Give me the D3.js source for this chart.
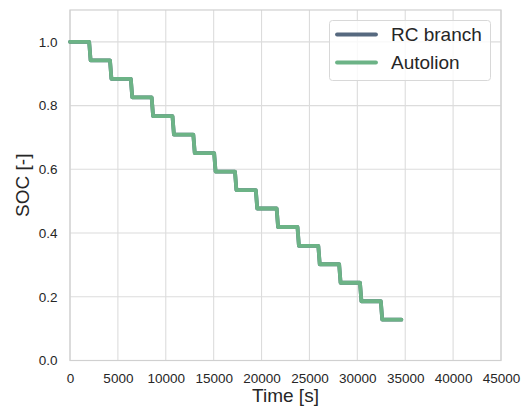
<!DOCTYPE html>
<html>
<head>
<meta charset="utf-8">
<script src="https://cdn.jsdelivr.net/npm/d3@7"></script>
<style>
  body { margin: 0; background: #fff; }
  text { font-family: "Liberation Sans", Arial, sans-serif; fill: #262626; }
</style>
</head>
<body>
<script>
var width = 527;
var height = 409;

// series names and values
var seriesNames = ["RC branch", "Autolion"];
var seriesColors = ["#56697f", "#6cb386"];

var timeValues = [0, 2000, 2150, 4175, 4325, 6350, 6500, 8525, 8675, 10700, 10850,
  12875, 13025, 15050, 15200, 17225, 17375, 19400, 19550, 21575, 21725,
  23750, 23900, 25925, 26075, 28100, 28250, 30275, 30425, 32450, 32600, 34600];
var rcSoc = [1.0, 1.0, 0.942, 0.942, 0.884, 0.884, 0.826, 0.826, 0.767, 0.767, 0.709,
  0.709, 0.651, 0.651, 0.593, 0.593, 0.535, 0.535, 0.477, 0.477, 0.419,
  0.419, 0.360, 0.360, 0.302, 0.302, 0.244, 0.244, 0.186, 0.186, 0.128, 0.128];
var autolionSoc = [1.0, 1.0, 0.942, 0.942, 0.884, 0.884, 0.826, 0.826, 0.767, 0.767, 0.709,
  0.709, 0.651, 0.651, 0.593, 0.593, 0.535, 0.535, 0.477, 0.477, 0.419,
  0.419, 0.360, 0.360, 0.302, 0.302, 0.244, 0.244, 0.186, 0.186, 0.128, 0.128];

var xTicks = [0, 5000, 10000, 15000, 20000, 25000, 30000, 35000, 40000, 45000];
var yTicks = [0.0, 0.2, 0.4, 0.6, 0.8, 1.0];

var plotLeft = 70, plotRight = 501, plotTop = 10, plotBottom = 360.5;

var x = d3.scaleLinear().domain([0, 45000]).range([plotLeft, plotRight]);
var y = d3.scaleLinear().domain([0, 1.1]).range([plotBottom, plotTop]);

var svg = d3.select("body").append("svg")
    .attr("width", width)
    .attr("height", height);

// grid
svg.append("g")
    .selectAll("line")
    .data(xTicks)
  .enter().append("line")
    .attr("x1", function(d) { return x(d); })
    .attr("x2", function(d) { return x(d); })
    .attr("y1", plotTop)
    .attr("y2", plotBottom)
    .attr("stroke", "#dcdcdc")
    .attr("stroke-width", 1.1);

svg.append("g")
    .selectAll("line")
    .data(yTicks)
  .enter().append("line")
    .attr("x1", plotLeft)
    .attr("x2", plotRight)
    .attr("y1", function(d) { return y(d); })
    .attr("y2", function(d) { return y(d); })
    .attr("stroke", "#dcdcdc")
    .attr("stroke-width", 1.1);

// frame
svg.append("rect")
    .attr("x", plotLeft)
    .attr("y", plotTop)
    .attr("width", plotRight - plotLeft)
    .attr("height", plotBottom - plotTop)
    .attr("fill", "none")
    .attr("stroke", "#d0d0d0")
    .attr("stroke-width", 1.2);

// axes
var xAxis = d3.axisBottom(x).tickValues(xTicks).tickSize(0).tickPadding(13)
    .tickFormat(function(d) { return d; });
var yAxis = d3.axisLeft(y).tickValues(yTicks).tickSize(0).tickPadding(12.5)
    .tickFormat(d3.format(".1f"));

var gx = svg.append("g").attr("transform", "translate(0," + plotBottom + ")").call(xAxis);
var gy = svg.append("g").attr("transform", "translate(" + plotLeft + ",0)").call(yAxis);
[gx, gy].forEach(function(g) {
  g.select(".domain").remove();
  g.selectAll("text")
    .style("font-size", "13.5px")
    .style("font-family", "Liberation Sans, Arial, sans-serif")
    .attr("fill", "#262626");
});

// lines
var seriesData = [rcSoc, autolionSoc];
var line = d3.line()
    .x(function(d, i) { return x(timeValues[i]); })
    .y(function(d) { return y(d); });

svg.append("g")
    .selectAll("path")
    .data(seriesData)
  .enter().append("path")
    .attr("d", line)
    .attr("fill", "none")
    .attr("stroke", function(d, i) { return seriesColors[i]; })
    .attr("stroke-width", 3.8)
    .attr("stroke-linejoin", "round")
    .attr("stroke-linecap", "round");

// axis labels
svg.append("text")
    .attr("x", (plotLeft + plotRight) / 2)
    .attr("y", 402)
    .attr("text-anchor", "middle")
    .style("font-size", "19px")
    .text("Time [s]");

svg.append("text")
    .attr("transform", "translate(29," + ((plotTop + plotBottom) / 2) + ") rotate(-90)")
    .attr("text-anchor", "middle")
    .style("font-size", "19px")
    .text("SOC [-]");

// legend
var legend = svg.append("g");
legend.append("rect")
    .attr("x", 329.5)
    .attr("y", 20.5)
    .attr("width", 161)
    .attr("height", 60)
    .attr("rx", 3)
    .attr("fill", "#fff")
    .attr("fill-opacity", 0.8)
    .attr("stroke", "#d8d8d8");

var item = legend.selectAll("g.item")
    .data(seriesNames)
  .enter().append("g")
    .attr("class", "item")
    .attr("transform", function(d, i) { return "translate(0," + (34.5 + i * 28) + ")"; });

item.append("line")
    .attr("x1", 337)
    .attr("x2", 376)
    .attr("stroke", function(d, i) { return seriesColors[i]; })
    .attr("stroke-width", 3.8)
    .attr("stroke-linecap", "round");

item.append("text")
    .attr("x", 391)
    .attr("dy", "0.36em")
    .style("font-size", "19px")
    .text(function(d) { return d; });
</script>
</body>
</html>
